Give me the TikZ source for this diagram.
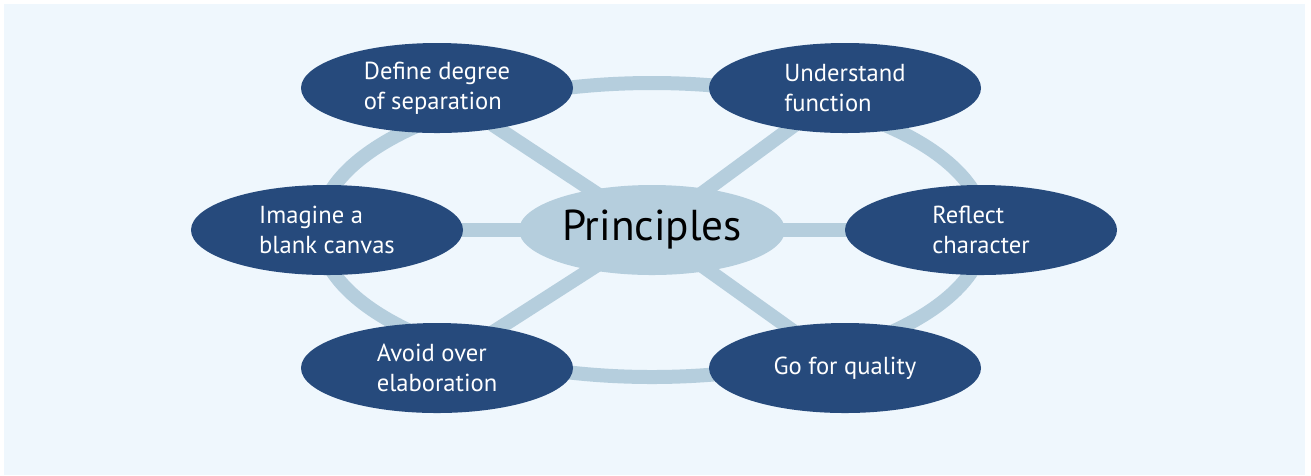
\documentclass[tikz,border=0pt]{standalone}
\usepackage{fontspec}
\setmainfont{PT Sans}
\usetikzlibrary{shapes.geometric, backgrounds}
\definecolor{DeepBlue}{HTML}{264A7C}
\definecolor{PaleSteel}{HTML}{B5CEDD}
\definecolor{SkyWash}{HTML}{EFF7FD}

\begin{document}
\begin{tikzpicture}[
    leaf/.style={ellipse, fill=DeepBlue, text=white, minimum width=2.72cm,
                 minimum height=0.9cm, inner sep=0pt, align=left,
                 font=\fontsize{7.0}{8.6}\selectfont},
    hub/.style={ellipse, fill=PaleSteel, minimum width=2.66cm,
                minimum height=0.9cm, inner sep=0pt,
                font=\fontsize{12.3}{15}\selectfont},
    link/.style={draw=PaleSteel, line width=0.14cm}
]
    \useasboundingbox (0,0) rectangle (13.11,4.75);
    \node[hub] (hub) at (6.52,2.45) {Principles};
    \node[leaf] (sep) at (4.37,3.87) {Define degree\\of separation};
    \node[leaf] (func) at (8.45,3.87) {Understand\\function};
    \node[leaf] (canvas) at (3.27,2.45) {Imagine a\\blank canvas};
    \node[leaf] (char) at (9.81,2.45) {Reflect\\character};
    \node[leaf] (elab) at (4.37,1.07) {Avoid over\\elaboration};
    \node[leaf] (qual) at (8.45,1.07) {Go for quality};
    \begin{scope}[on background layer]
        \fill[SkyWash] (0.04,0) rectangle (13.05,4.71);
        \draw[link] (hub.center) ellipse [x radius=3.33cm, y radius=1.47cm];
        \foreach \n in {sep, func, canvas, char, elab, qual}
            \draw[link] (hub.center) -- (\n.center);
    \end{scope}
\end{tikzpicture}
\end{document}
